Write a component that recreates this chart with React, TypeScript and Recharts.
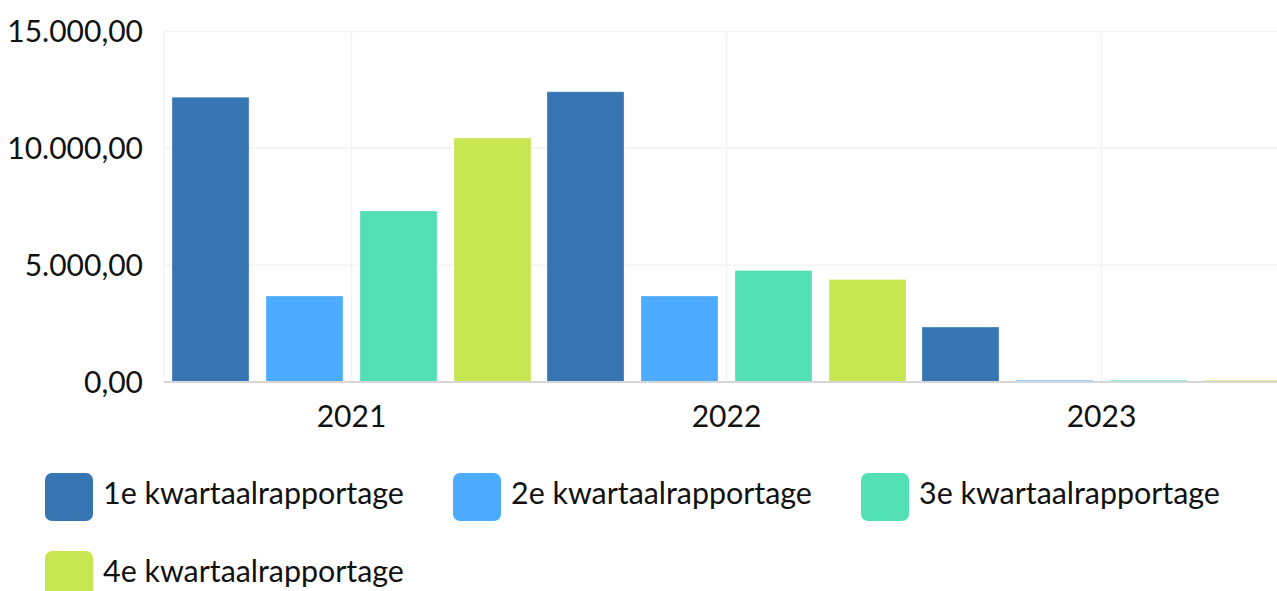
import React from 'react';
import { BarChart, Bar, XAxis, YAxis, CartesianGrid } from 'recharts';

const years = ['2021', '2022', '2023'];
const q1 = [12190, 12420, 2350];
const q2 = [3680, 3680, 70];
const q3 = [7320, 4775, 70];
const q4 = [10440, 4390, 70];
const yTicks = [0, 5000, 10000, 15000];

const seriesNames = ['1e kwartaalrapportage', '2e kwartaalrapportage', '3e kwartaalrapportage', '4e kwartaalrapportage'];
const seriesColors = ['#3675b2', '#4dacff', '#52dfb4', '#c8e651'];
const seriesKeys = ['q1', 'q2', 'q3', 'q4'];

const data = years.map((year, i) => ({ year, q1: q1[i], q2: q2[i], q3: q3[i], q4: q4[i] }));

const fmt = (v: number) =>
  v.toLocaleString('nl-NL', { minimumFractionDigits: 2, maximumFractionDigits: 2 });

const FONT = 'Lato, "Noto Sans", sans-serif';

export default function App() {
  return (
    <div style={{ position: 'absolute', left: 0, top: 0, width: 1277, height: 591, overflow: 'hidden', background: '#fff', fontFamily: FONT }}>
      <BarChart
        width={1300}
        height={442}
        data={data}
        margin={{ top: 31.5, right: 11, bottom: 0, left: 0 }}
        barGap={17}
        barSize={77}
      >
        <CartesianGrid stroke="#f3f3f3" strokeWidth={1.5} />
        <XAxis
          dataKey="year"
          height={60}
          axisLine={{ stroke: '#d6d6d6', strokeWidth: 2 }}
          tickLine={false}
          tickSize={6}
          tickMargin={18}
          tick={{ fill: '#111', fontSize: 30, fontFamily: FONT }}
        />
        <YAxis
          width={164}
          domain={[0, 15000]}
          ticks={yTicks}
          tickFormatter={fmt}
          axisLine={false}
          tickLine={false}
          tickSize={6}
          tickMargin={15}
          tick={{ fill: '#111', fontSize: 30, fontFamily: FONT }}
        />
        {seriesKeys.map((k, i) => (
          <Bar
            key={k}
            dataKey={k}
            name={seriesNames[i]}
            fill={seriesColors[i]}
            stroke="#ffffff"
            strokeOpacity={0.3}
            strokeWidth={1}
            isAnimationActive={false}
          />
        ))}
      </BarChart>
      <div style={{ position: 'absolute', left: 45, top: 473, width: 1232, display: 'flex', flexWrap: 'wrap', rowGap: 30 }}>
        {seriesNames.map((name, i) => (
          <div key={name} style={{ width: 408, height: 48, display: 'flex', alignItems: 'center' }}>
            <div style={{ width: 48, height: 48, borderRadius: 7, background: seriesColors[i], flex: 'none' }} />
            <span style={{ marginLeft: 10, fontSize: 30.4, color: '#111', whiteSpace: 'nowrap', lineHeight: '48px', position: 'relative', top: -5 }}>{name}</span>
          </div>
        ))}
      </div>
    </div>
  );
}
